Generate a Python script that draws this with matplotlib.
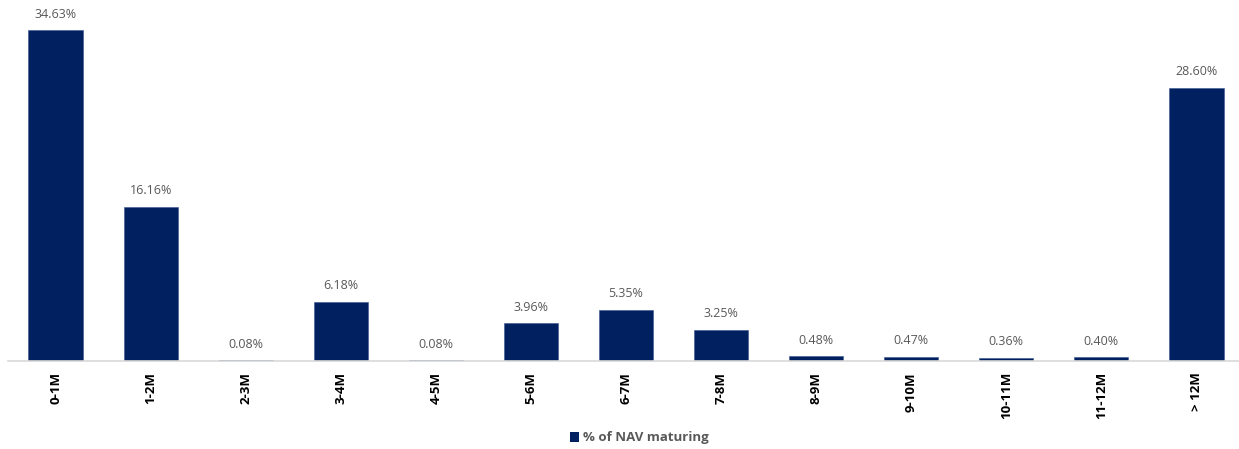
import numpy as np
import matplotlib.pyplot as plt
from matplotlib.patches import Patch

categories = ['0-1M', '1-2M', '2-3M', '3-4M', '4-5M', '5-6M', '6-7M',
              '7-8M', '8-9M', '9-10M', '10-11M', '11-12M', '> 12M']
values = [34.63, 16.16, 0.08, 6.18, 0.08, 3.96, 5.35, 3.25, 0.48, 0.47, 0.36, 0.40, 28.60]

plt.rcParams['font.family'] = ['Open Sans', 'DejaVu Sans']
bar_color = '#002060'

fig = plt.figure(figsize=(12.39, 4.49), dpi=100)
ax = fig.add_axes([8 / 1239, 88 / 449, 1236 / 1239, 344 / 449])

x = np.arange(len(categories))
bars = ax.bar(x, values, width=0.57, color=bar_color, edgecolor='#3a5590', linewidth=0.4)

for xi, v in zip(x, values):
    ax.text(xi, v + 1.0, f'{v:.2f}%', ha='center', va='bottom',
            fontsize=9, color='#595959', clip_on=False)

ax.set_xlim(-0.5, len(categories) - 0.5)
ax.set_ylim(0, 36)
ax.set_yticks([])
ax.set_xticks(x)
ax.set_xticklabels(categories, rotation=90, fontsize=9.5, fontweight='bold', color='black')
ax.tick_params(axis='x', length=0, pad=8)
for side in ['top', 'right', 'left']:
    ax.spines[side].set_visible(False)
ax.spines['bottom'].set_color('#d9d9d9')
ax.spines['bottom'].set_linewidth(1.2)

handles = [Patch(facecolor=bar_color, label='% of NAV maturing')]
leg = fig.legend(handles=handles, loc='center', bbox_to_anchor=(0.5 + 20 / 1239, 1 - 438 / 449),
                 frameon=False, fontsize=9.5, handlelength=0.7, handleheight=0.7,
                 handletextpad=0.3)
for t in leg.get_texts():
    t.set_color('#595959')
    t.set_fontweight('bold')

plt.savefig('out.png', dpi=100)
